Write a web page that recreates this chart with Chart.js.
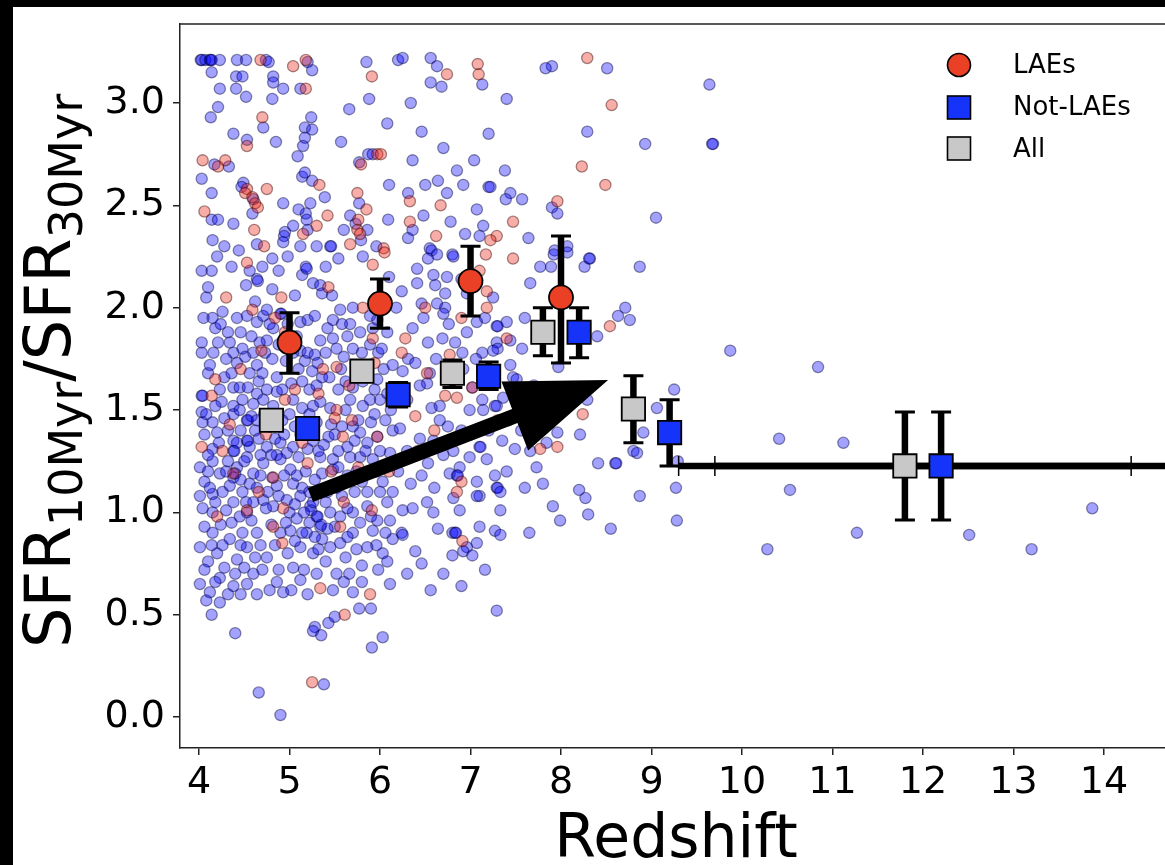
<!DOCTYPE html>
<html>
<head>
<meta charset="utf-8">
<script src="https://cdn.jsdelivr.net/npm/chart.js@4.4.0/dist/chart.umd.min.js"></script>
<style>
html, body { margin: 0; padding: 0; background: #000; width: 1165px; height: 865px; overflow: hidden; }
#wrap { position: absolute; left: 13px; top: 7px; width: 1152px; height: 858px; background: #fff; }
</style>
</head>
<body>
<div id="wrap"><canvas id="chart"></canvas></div>
<script>
// individual galaxies, [redshift, SFR10/SFR30]
const notLaePoints = [
  [4.02,3.21],[4.03,3.21],[4.07,3.21],[4.12,3.21],[4.13,3.21],[4.14,3.21],[4.23,3.21],[4.42,3.21],[4.52,3.21],[4.74,3.21],[4.77,3.20],[5.20,3.20],[5.85,3.20],[6.20,3.21],[6.25,3.22],[6.56,3.22],
  [4.14,3.15],[4.41,3.13],[4.48,3.13],[4.23,3.07],[4.41,3.07],[4.52,3.03],[4.82,3.13],[4.82,3.10],[4.93,3.07],[5.12,3.07],[4.81,3.02],[5.25,3.16],[5.88,3.02],[4.21,2.98],[4.13,2.93],[4.71,2.88],
  [5.24,2.93],[5.17,2.88],[5.25,2.87],[4.38,2.85],[4.53,2.82],[4.85,2.81],[5.17,2.83],[5.15,2.79],[5.66,2.97],[6.08,2.90],[5.57,2.81],[5.09,2.74],[5.87,2.75],[5.92,2.75],[5.77,2.71],[4.17,2.70],
  [4.33,2.69],[4.03,2.63],[4.49,2.61],[4.47,2.59],[4.60,2.53],[4.14,2.56],[4.14,2.43],[4.21,2.43],[4.38,2.41],[4.59,2.46],[4.93,2.51],[5.14,2.64],[5.17,2.66],[5.25,2.62],[5.39,2.54],[5.23,2.51],
  [5.18,2.46],[5.19,2.43],[5.20,2.38],[4.95,2.37],[4.94,2.35],[4.15,2.33],[4.64,2.31],[4.93,2.32],[5.12,2.30],[5.45,2.30],[5.46,2.30],[5.67,2.45],[5.73,2.41],[5.79,2.33],[5.77,2.51],[6.10,2.60],
  [6.09,2.43],[5.81,2.25],[4.81,2.24],[4.03,2.18],[4.14,2.18],[4.52,2.11],[4.64,2.14],[4.65,2.13],[4.81,2.09],[5.14,2.16],[5.18,2.20],[5.19,2.19],[5.26,2.12],[5.34,2.11],[5.36,2.07],[5.47,2.06],
  [5.06,2.06],[6.10,2.15],
  [6.63,3.18],[7.90,3.18],[7.83,3.17],[8.51,3.17],[6.56,3.10],[6.68,3.08],[7.13,3.09],[9.64,3.09],[7.40,3.02],[8.29,2.86],[8.93,2.80],[9.68,2.80],[6.85,2.67],[7.38,2.67],[6.64,2.62],[7.20,2.59],
  [7.22,2.59],[6.31,2.56],[7.44,2.56],[7.39,2.53],[7.57,2.53],[7.90,2.49],[7.07,2.48],[7.96,2.46],[9.05,2.44],[6.78,2.42],[7.14,2.40],[7.10,2.35],[6.31,2.34],[7.64,2.34],[8.07,2.30],[7.93,2.28],
  [6.55,2.29],[6.57,2.28],[6.80,2.26],[6.63,2.26],[8.32,2.24],[6.53,2.24],[8.26,2.20],[8.87,2.20],[7.77,2.20],[7.89,2.20],[6.41,2.19],[6.59,2.16],[6.74,2.15],[7.66,2.12],[6.41,2.12],[6.61,2.11],
  [6.72,2.07],[6.81,2.25],[7.92,2.26],[8.07,2.27],[8.31,2.24],[6.96,2.07],[7.25,2.05],
  [4.03,1.83],[4.03,1.78],[4.15,1.95],[4.32,1.88],[4.34,1.83],[4.21,1.83],[4.38,1.78],[4.42,1.73],[4.51,1.76],[4.60,1.78],[4.64,1.72],[4.73,1.78],[4.75,1.84],[4.81,1.75],[4.67,1.83],[4.42,1.95],
  [4.53,1.96],[4.64,1.93],[4.71,1.96],[4.75,1.99],[4.82,1.90],[4.90,1.97],[4.91,1.97],[5.12,1.93],[5.20,1.94],[5.28,1.96],[5.12,1.79],[5.17,1.74],[5.20,1.78],[5.28,1.77],[5.31,1.73],[5.25,1.69],
  [5.57,1.70],[5.34,1.84],[5.48,1.85],[5.64,1.86],[5.67,1.92],[5.78,1.88],[5.89,1.82],[5.98,1.78],[6.08,1.88],[5.48,1.94],[5.56,1.99],[5.70,2.00],[5.89,1.96],[5.97,1.94],
  [4.03,1.57],[4.04,1.57],[4.23,1.60],[4.38,1.61],[4.45,1.61],[4.54,1.61],[4.64,1.58],[4.75,1.60],[4.86,1.59],[4.25,1.54],[4.38,1.52],[4.48,1.55],[4.60,1.53],[4.71,1.55],[4.82,1.52],[5.04,1.55],
  [5.14,1.51],[5.26,1.52],[5.34,1.54],[5.45,1.51],[5.67,1.55],[5.81,1.52],[5.89,1.55],[6.00,1.55],[6.08,1.58],[5.54,1.60],[5.70,1.61],[5.81,1.64],[5.97,1.65],
  [4.03,1.49],[4.04,1.44],[4.15,1.44],[4.20,1.39],[4.38,1.48],[4.45,1.50],[4.53,1.45],[4.54,1.45],[4.62,1.40],[4.38,1.35],[4.15,1.31],[4.38,1.30],[4.39,1.30],[4.53,1.35],[4.54,1.35],[4.56,1.32],
  [4.75,1.32],[4.86,1.28],[4.97,1.29],[5.04,1.32],[5.26,1.35],[5.43,1.37],[5.64,1.32],[5.86,1.34],[5.97,1.37],[6.14,1.40],[5.78,1.39],
  [4.01,1.22],[4.15,1.25],[4.23,1.19],[4.38,1.17],[4.42,1.22],[4.53,1.27],[4.60,1.19],[4.71,1.24],[4.81,1.17],[4.90,1.26],[5.01,1.21],[5.04,1.14],[5.14,1.12],[4.40,1.19],[5.34,1.27],[5.48,1.26],
  [5.67,1.27],[5.78,1.27],[5.92,1.26],[6.11,1.29],[5.36,1.19],[5.48,1.21],[5.64,1.18],[5.80,1.15],[6.03,1.15],
  [4.01,1.08],[4.15,1.09],[4.04,1.02],[4.15,1.00],[4.30,1.01],[4.38,1.05],[4.45,0.98],[4.53,1.00],[4.60,1.05],[4.71,1.06],[4.82,1.03],[4.97,1.06],[5.12,1.08],[5.23,1.03],[5.30,0.98],[5.31,0.98],
  [5.34,0.93],[5.35,0.94],[5.45,1.00],[5.56,0.98],[5.70,1.00],[5.86,1.03],[5.97,0.96],[6.11,0.96],
  [4.01,0.83],[4.15,0.90],[4.20,0.80],[4.34,0.87],[4.42,0.77],[4.53,0.83],[4.64,0.90],[4.75,0.78],[4.90,0.90],[5.01,0.91],[5.12,0.83],[5.19,0.90],[5.26,0.80],[5.36,0.87],[5.45,0.83],[5.56,0.85],
  [5.70,0.90],[5.86,0.83],[5.92,0.91],[6.03,0.80],[6.14,0.87],
  [4.01,0.65],[4.12,0.61],[4.23,0.68],[4.38,0.64],[4.53,0.65],[4.60,0.70],[4.78,0.62],[4.93,0.61],[5.12,0.67],[5.48,0.62],[5.70,0.61],[6.11,0.65],
  [4.08,0.57],[4.23,0.56],[4.14,0.50],[4.40,0.41],[4.66,0.12],[4.90,0.01],[5.38,0.16],[5.28,0.44],[5.26,0.42],[5.35,0.40],[5.43,0.46],[5.50,0.49],[5.77,0.53],[5.90,0.53],[5.91,0.34],[6.03,0.39],
  [6.63,2.02],[6.72,2.00],[6.70,1.97],[7.16,1.95],[7.07,1.93],[7.29,1.91],[7.30,1.91],[7.40,1.93],[7.29,1.83],[7.30,1.80],[7.44,1.84],[7.57,1.80],[8.71,2.00],[8.63,1.96],[8.76,1.94],[8.40,1.86],
  [7.97,1.71],[6.53,1.83],[6.69,1.85],[6.83,1.83],[6.91,1.78],[7.13,1.78],[7.25,1.79],[6.31,1.75],[6.25,1.69],[6.39,1.73],[6.55,1.68],[6.52,1.63],[7.02,1.61],[7.13,1.55],[7.27,1.52],[7.36,1.56],
  [7.47,1.66],[7.51,1.65],[8.29,1.55],[6.57,1.51],[6.66,1.52],[6.22,1.41],[6.99,1.50],[7.14,1.50],[7.29,1.52],[7.96,1.39],[7.84,1.34],[8.21,1.38],[6.66,1.45],[6.75,1.42],[6.59,1.35],[6.81,1.30],
  [7.10,1.32],[7.11,1.32],[7.35,1.35],[7.49,1.31],[7.66,1.30],[6.53,1.24],[6.88,1.22],[6.99,1.27],[6.77,1.19],[6.85,1.18],[6.86,1.18],[7.07,1.15],[7.27,1.18],[7.29,1.12],[7.30,1.12],[7.33,1.10],
  [7.73,1.22],[8.41,1.24],[8.60,1.24],[8.61,1.24],[8.80,1.30],[8.84,1.29],[8.91,1.39],[9.06,1.51],[9.25,1.60],[9.29,1.25],[9.27,1.12],[9.28,0.96],[9.87,1.79],[10.41,1.36],[10.53,1.11],[10.28,0.82],
  [8.87,1.08],[8.20,1.11],[8.27,1.07],[8.30,0.99],[7.91,1.03],[7.99,0.96],[7.65,0.90],[8.55,0.92],[6.81,1.07],[7.10,1.08],[6.52,1.05],[6.59,1.00],[6.88,1.01],[7.07,1.08],[7.33,1.01],[6.25,1.01],
  [6.36,1.02],[6.24,0.90],[6.25,0.89],[6.39,0.81],[6.64,0.92],[6.80,0.90],[6.83,0.90],[6.84,0.90],[6.96,0.83],[7.07,0.85],[6.80,0.79],[6.92,0.81],[7.02,0.79],[7.10,0.93],[7.27,0.91],[7.33,0.89],
  [7.29,0.52],[10.84,1.71],[11.12,1.34],[11.27,0.90],[12.51,0.89],[13.20,0.82],[13.87,1.02],[9.67,2.80],
  [4.05,1.95],[4.08,2.05],[4.10,1.68],[4.12,1.72],[4.18,1.90],[4.26,1.98],[4.28,1.66],[4.30,1.75],[4.46,1.88],[4.58,1.86],[4.62,2.03],[4.70,1.68],[4.78,1.92],[4.86,1.66],[4.88,1.82],[4.96,1.74],
  [5.02,1.63],[5.08,1.86],[5.10,1.70],[5.22,1.60],[5.30,1.62],[5.40,1.78],[5.44,1.66],[5.52,1.80],[5.60,1.76],[5.62,1.64],[5.74,1.72],[5.84,1.70],[5.94,1.60],[6.04,1.70],
  [4.06,1.38],[4.10,1.28],[4.22,1.34],[4.28,1.46],[4.32,1.25],[4.46,1.40],[4.50,1.25],[4.58,1.47],[4.66,1.36],[4.68,1.28],[4.78,1.42],[4.84,1.36],[4.92,1.45],[4.94,1.38],[5.06,1.42],[5.10,1.27],
  [5.16,1.44],[5.20,1.31],[5.30,1.44],[5.38,1.33],[5.46,1.43],[5.54,1.30],[5.58,1.42],[5.72,1.35],[5.76,1.45],[5.90,1.44],[6.00,1.30],[6.06,1.45],
  [4.06,1.15],[4.12,1.12],[4.26,1.10],[4.34,1.13],[4.48,1.10],[4.56,1.14],[4.64,1.12],[4.76,1.10],[4.86,1.13],[4.94,1.18],[5.08,1.18],[5.18,1.20],[5.22,1.10],[5.28,1.16],[5.42,1.10],[5.52,1.12],
  [5.58,1.08],[5.72,1.10],[5.86,1.10],[5.96,1.20],[6.08,1.05],
  [4.06,0.93],[4.10,0.76],[4.24,0.94],[4.28,0.73],[4.36,0.95],[4.48,0.90],[4.50,0.73],[4.58,0.96],[4.68,0.84],[4.70,0.72],[4.84,0.84],[4.88,0.72],[4.98,0.80],[5.04,0.73],[5.08,0.97],[5.16,0.72],
  [5.22,0.95],[5.24,1.01],[5.26,1.05],[5.28,0.88],[5.30,0.70],[5.40,0.76],[5.50,0.93],[5.62,0.78],[5.66,0.70],[5.78,0.95],[5.80,0.74],[5.98,0.72],[6.06,0.90],
  [6.20,1.20],[6.30,1.30],[6.34,1.14],[6.44,1.36],[6.46,1.18],[6.60,1.12],[6.70,1.28],[6.90,1.40],[7.00,1.38],[7.18,1.26],[7.20,1.40],[7.40,1.20],[7.42,1.45],[7.56,1.40],[7.60,1.12],[7.80,1.14],
  [6.20,1.60],[6.30,1.55],[6.36,1.90],[6.44,1.62],[6.48,1.95],[6.62,1.75],[6.76,1.92],[6.92,1.70],[6.96,1.88],[7.06,1.75],[7.22,1.68],[7.44,1.72],[7.60,1.95],[7.70,1.62],[7.86,1.60],[8.04,1.60],
  [6.30,0.70],[6.46,0.75],[6.56,0.62],[6.70,0.70],[6.90,0.64],[7.16,0.72],
  [6.18,2.00],[6.24,2.08],[6.46,2.02],[6.90,2.14],[6.36,2.38],[6.48,2.45],[6.50,2.60],[6.74,2.56],[6.94,2.36],[6.92,2.60],[6.46,2.86],[6.70,2.78],[6.36,2.72],[7.04,2.72],[6.34,3.00],[7.20,2.85],
  [4.10,2.10],[4.20,2.25],[4.28,2.30],[4.36,2.20],[4.44,2.28],[4.56,2.18],[4.70,2.20],[4.88,2.18],[4.98,2.25],[5.04,2.40],[5.10,2.48],[5.30,2.30],[5.40,2.20],[5.54,2.24],[5.60,2.38],[5.86,2.38],
  [5.96,2.30],[6.02,2.05],
  [4.16,1.78],[4.24,1.92],[4.36,1.68],[4.48,1.80],[4.56,1.68],[4.66,1.64],[4.92,1.60],[4.98,1.92],[5.04,1.78],[5.14,1.64],[5.36,1.66],[5.42,1.90],[5.58,1.92],[5.70,1.80],[5.80,1.78],[5.92,1.90],
  [6.02,1.80],[6.14,1.72],
  [4.08,1.48],[4.18,1.52],[4.32,1.40],[4.42,1.34],[4.64,1.45],[4.72,1.48],[4.80,1.28],[4.90,1.34],[5.00,1.48],[5.12,1.38],[5.22,1.48],[5.32,1.30],[5.50,1.38],[5.62,1.50],[5.70,1.42],[5.84,1.30],
  [5.94,1.48],[6.12,1.50],
  [4.10,1.20],[4.18,1.05],[4.30,1.20],[4.46,1.16],[4.52,1.05],[4.68,1.18],[4.74,1.02],[4.88,1.08],[5.00,1.00],[5.06,1.04],[5.16,1.00],[5.40,1.05],[5.54,1.22],[5.64,1.02],[5.74,1.20],[5.90,0.98],
  [6.00,1.10],[6.14,1.10],
  [4.14,0.84],[4.26,0.84],[4.40,0.70],[4.46,0.84],[4.62,0.78],[4.80,0.94],[4.96,0.95],[5.06,0.86],[5.14,0.90],[5.32,0.82],[5.42,0.92],[5.52,0.70],[5.64,0.88],[5.74,0.82],[5.96,0.84],[6.08,0.76],
  [4.06,0.72],[4.18,0.66],[4.32,0.60],[4.46,0.60],[4.64,0.60],[4.86,0.66],[5.02,0.62],[5.20,0.60],[5.60,0.66],[5.80,0.66]
];
const laePoints = [
  [4.68,3.21],[5.18,3.21],[5.04,3.18],[5.91,3.13],[5.18,3.07],[4.70,2.93],[4.53,2.79],[5.97,2.75],[6.01,2.75],[5.79,2.70],[4.04,2.72],[4.21,2.69],[4.29,2.72],[4.53,2.58],[4.51,2.56],[4.59,2.54],
  [4.62,2.51],[4.65,2.49],[4.75,2.58],[4.06,2.47],[5.33,2.60],[5.42,2.45],[5.15,2.36],[4.61,2.38],[5.67,2.31],[5.76,2.43],[5.75,2.38],[5.78,2.36],[5.75,2.56],[5.85,2.48],[6.04,2.29],[6.05,2.27],
  [5.92,2.21],[4.53,2.22],[5.43,2.10],[4.91,2.05],
  [8.29,3.22],[7.08,3.19],[6.74,3.14],[7.09,3.14],[8.56,2.99],[8.23,2.69],[8.49,2.60],[7.96,2.52],[6.33,2.52],[6.67,2.50],[7.47,2.42],[6.33,2.42],[7.29,2.35],[7.22,2.33],[6.62,2.35],[7.17,2.26],
  [7.47,2.24],[7.10,2.18],[7.18,2.08],
  [4.69,1.79],[4.59,1.99],[4.95,1.88],[5.37,1.70],[5.52,1.71],[5.81,2.00],[4.14,1.57],[4.95,1.55],[5.52,1.50],[4.34,1.43],[4.03,1.32],[5.14,1.34],[5.59,1.37],[5.97,1.37],[5.69,1.45],[5.50,1.46],
  [4.38,1.19],[4.82,1.17],[4.66,1.10],[4.53,1.01],[4.93,1.02],[4.82,0.93],[5.56,0.93],[5.91,1.01],[5.34,0.63],[5.89,0.60],[5.25,0.17],[5.61,0.50],
  [7.18,2.00],[8.54,1.91],[6.28,1.85],[6.24,1.78],[6.77,1.77],[6.52,1.68],[6.72,1.57],[6.85,1.56],[7.02,1.61],[8.24,1.48],[6.39,1.47],[7.96,1.32],[7.77,1.31],[6.90,1.15],[6.85,1.10],[6.91,0.86],
  [4.18,1.65],[4.46,1.70],[4.84,1.95],[5.06,1.60],[5.32,1.58],[5.66,1.62],[5.94,1.73],[4.26,1.30],[4.74,1.38],[5.20,1.24],[5.46,1.20],[5.76,1.22],[4.20,0.98],[4.92,0.85],[5.60,1.05],[6.10,1.20],
  [6.42,1.30],[6.60,1.40],[7.30,1.45],[6.50,2.00],[6.90,1.95],[7.40,1.85],[4.30,2.05],[4.72,2.30],[5.30,2.40],[5.92,1.85]
];

// binned medians with error bars
const laeBinZ = [5.0, 6.0, 7.0, 8.0];
const laeBinR = [1.83, 2.02, 2.13, 2.05];
const laeBinLo = [1.68, 1.90, 1.96, 1.73];
const laeBinHi = [1.975, 2.14, 2.30, 2.35];

const notLaeBinZ = [5.2, 6.2, 7.2, 8.2, 9.2, 12.2];
const notLaeBinR = [1.41, 1.575, 1.665, 1.88, 1.39, 1.227];
const notLaeBinLo = [1.39, 1.515, 1.60, 1.755, 1.227, 0.963];
const notLaeBinHi = [1.43, 1.635, 1.735, 2.00, 1.55, 1.49];
const notLaeBinZerr = [0, 0, 0, 0, 0, 2.5];

const allBinZ = [4.8, 5.8, 6.8, 7.8, 8.8, 11.8];
const allBinR = [1.45, 1.69, 1.68, 1.88, 1.505, 1.227];
const allBinLo = [1.43, 1.67, 1.61, 1.765, 1.34, 0.963];
const allBinHi = [1.47, 1.71, 1.745, 2.00, 1.667, 1.49];
const allBinZerr = [0, 0, 0, 0, 0, 2.5];

const xTicks = [4, 5, 6, 7, 8, 9, 10, 11, 12, 13, 14];
const yTicks = [0.0, 0.5, 1.0, 1.5, 2.0, 2.5, 3.0];

// annotation arrow (data coords)
const arrowFrom = [5.23, 1.085];
const arrowTo = [8.52, 1.647];

const FONT = "'DejaVu Sans', sans-serif";
const RED = '#ea4126', BLUE = '#1634f9', GREY = '#c8c8c8';

function toXY(zs, rs) {
    return zs.map((z, i) => ({ x: z, y: rs[i] }));
}

function drawErrorBars(chart) {
    const ctx = chart.ctx, xs = chart.scales.x, ys = chart.scales.y, a = chart.chartArea;
    const groups = [
        [laeBinZ, laeBinR, laeBinLo, laeBinHi, null],
        [notLaeBinZ, notLaeBinR, notLaeBinLo, notLaeBinHi, notLaeBinZerr],
        [allBinZ, allBinR, allBinLo, allBinHi, allBinZerr]
    ];
    ctx.save();
    ctx.beginPath();
    ctx.rect(a.left, a.top, a.right - a.left, a.bottom - a.top);
    ctx.clip();
    ctx.strokeStyle = '#000';
    ctx.lineCap = 'butt';
    for (let g of groups) {
        const [zs, rs, lo, hi, zerr] = g;
        for (let i = 0; i < zs.length; i++) {
            const px = xs.getPixelForValue(zs[i]);
            const py = ys.getPixelForValue(rs[i]);
            const pLo = ys.getPixelForValue(lo[i]);
            const pHi = ys.getPixelForValue(hi[i]);
            ctx.lineWidth = 6.5;
            ctx.beginPath();
            ctx.moveTo(px, pLo);
            ctx.lineTo(px, pHi);
            ctx.stroke();
            ctx.lineWidth = 3;
            ctx.beginPath();
            ctx.moveTo(px - 10, pLo); ctx.lineTo(px + 10, pLo);
            ctx.moveTo(px - 10, pHi); ctx.lineTo(px + 10, pHi);
            ctx.stroke();
            if (zerr && zerr[i] > 0) {
                const xl = xs.getPixelForValue(zs[i] - zerr[i]);
                const xr = xs.getPixelForValue(zs[i] + zerr[i]);
                ctx.lineWidth = 6.5;
                ctx.beginPath();
                ctx.moveTo(xl, py); ctx.lineTo(xr, py);
                ctx.stroke();
                ctx.lineWidth = 1.5;
                ctx.beginPath();
                ctx.moveTo(xl, py - 10); ctx.lineTo(xl, py + 10);
                ctx.moveTo(xr, py - 10); ctx.lineTo(xr, py + 10);
                ctx.stroke();
            }
        }
    }
    ctx.restore();
}

function drawArrow(chart) {
    const ctx = chart.ctx, xs = chart.scales.x, ys = chart.scales.y;
    const tx = xs.getPixelForValue(arrowFrom[0]), ty = ys.getPixelForValue(arrowFrom[1]);
    const hx = xs.getPixelForValue(arrowTo[0]), hy = ys.getPixelForValue(arrowTo[1]);
    const len = Math.hypot(hx - tx, hy - ty);
    const ux = (hx - tx) / len, uy = (hy - ty) / len;
    const nx = -uy, ny = ux;
    const headLen = 100, headHalf = 37, shaftHalf = 7.5;
    const bx = hx - ux * headLen, by = hy - uy * headLen;
    ctx.save();
    ctx.fillStyle = '#000';
    ctx.beginPath();
    ctx.moveTo(tx + nx * shaftHalf, ty + ny * shaftHalf);
    ctx.lineTo(bx + nx * shaftHalf, by + ny * shaftHalf);
    ctx.lineTo(bx + nx * headHalf, by + ny * headHalf);
    ctx.lineTo(hx, hy);
    ctx.lineTo(bx - nx * headHalf, by - ny * headHalf);
    ctx.lineTo(bx - nx * shaftHalf, by - ny * shaftHalf);
    ctx.lineTo(tx - nx * shaftHalf, ty - ny * shaftHalf);
    ctx.closePath();
    ctx.fill();
    ctx.restore();
}

function drawLegend(ctx) {
    const mx = 946, tx = 1000;
    ctx.save();
    ctx.strokeStyle = '#000';
    ctx.lineWidth = 1.6;
    ctx.fillStyle = RED;
    ctx.beginPath(); ctx.arc(mx, 58, 11.5, 0, Math.PI * 2); ctx.fill(); ctx.stroke();
    ctx.fillStyle = BLUE;
    ctx.fillRect(mx - 11.5, 89, 23, 23); ctx.strokeRect(mx - 11.5, 89, 23, 23);
    ctx.fillStyle = GREY;
    ctx.fillRect(mx - 11.5, 130, 23, 23); ctx.strokeRect(mx - 11.5, 130, 23, 23);
    ctx.fillStyle = '#000';
    ctx.font = '26px ' + FONT;
    ctx.textAlign = 'left';
    ctx.textBaseline = 'alphabetic';
    ctx.fillText('LAEs', tx, 66);
    ctx.fillText('Not-LAEs', tx, 108);
    ctx.fillText('All', tx, 150);
    ctx.restore();
}

function drawTitles(ctx) {
    ctx.save();
    ctx.fillStyle = '#000';
    ctx.textAlign = 'center';
    ctx.textBaseline = 'alphabetic';
    ctx.font = '60px ' + FONT;
    ctx.fillText('Redshift', 663, 850);
    // rotated y label with subscripts
    const parts = [['SFR', 64, 0], ['10Myr', 46, 12], ['/SFR', 64, 0], ['30Myr', 46, 12]];
    ctx.textAlign = 'left';
    let total = 0;
    for (let p of parts) {
        ctx.font = p[1] + 'px ' + FONT;
        total += ctx.measureText(p[0]).width;
    }
    ctx.translate(57, 364);
    ctx.rotate(-Math.PI / 2);
    let x = -total / 2;
    for (let p of parts) {
        ctx.font = p[1] + 'px ' + FONT;
        ctx.fillText(p[0], x, p[2]);
        x += ctx.measureText(p[0]).width;
    }
    ctx.restore();
}

function noPadding(axis) {
    axis.paddingTop = 0;
    axis.paddingBottom = 0;
    axis.paddingLeft = 0;
    axis.paddingRight = 0;
}

const decor = {
    id: 'decor',
    beforeDatasetDraw(chart, args) {
        if (chart.data.datasets[args.index].key === 'allBins') drawErrorBars(chart);
    },
    afterDatasetsDraw(chart) {
        drawArrow(chart);
    },
    afterDraw(chart) {
        const ctx = chart.ctx, a = chart.chartArea;
        ctx.save();
        ctx.strokeStyle = '#222';
        ctx.lineWidth = 1.5;
        ctx.beginPath();
        ctx.moveTo(a.left, a.top);
        ctx.lineTo(a.right, a.top);
        ctx.stroke();
        ctx.restore();
        drawLegend(ctx);
        drawTitles(ctx);
    }
};

const config = {
    type: 'scatter',
    data: {
        datasets: [
            {
                label: 'Not-LAEs galaxies',
                data: notLaePoints.map(p => ({ x: p[0], y: p[1] })),
                backgroundColor: 'rgba(0,0,255,0.36)',
                borderColor: 'rgba(0,0,60,0.45)',
                borderWidth: 1.3,
                pointRadius: 5.6,
                order: 10
            },
            {
                label: 'LAEs galaxies',
                data: laePoints.map(p => ({ x: p[0], y: p[1] })),
                backgroundColor: 'rgba(235,40,25,0.38)',
                borderColor: 'rgba(60,0,0,0.45)',
                borderWidth: 1.3,
                pointRadius: 5.6,
                order: 9
            },
            {
                key: 'allBins',
                label: 'All',
                data: toXY(allBinZ, allBinR),
                pointStyle: 'rect',
                backgroundColor: GREY,
                borderColor: '#000',
                borderWidth: 1.8,
                pointRadius: 16.5,
                order: 3
            },
            {
                label: 'Not-LAEs',
                data: toXY(notLaeBinZ, notLaeBinR),
                pointStyle: 'rect',
                backgroundColor: BLUE,
                borderColor: '#000',
                borderWidth: 1.8,
                pointRadius: 16.5,
                order: 2
            },
            {
                label: 'LAEs',
                data: toXY(laeBinZ, laeBinR),
                pointStyle: 'circle',
                backgroundColor: RED,
                borderColor: '#000',
                borderWidth: 1.8,
                pointRadius: 12,
                order: 1
            }
        ]
    },
    options: {
        responsive: true,
        maintainAspectRatio: false,
        animation: false,
        events: [],
        layout: { autoPadding: false, padding: { top: 17, right: 0, left: 0, bottom: 0 } },
        plugins: {
            legend: { display: false },
            tooltip: { enabled: false }
        },
        scales: {
            x: {
                type: 'linear',
                min: 3.79,
                max: 14.674,
                afterBuildTicks: axis => { axis.ticks = xTicks.map(v => ({ value: v })); },
                afterFit: axis => { axis.height = 117; noPadding(axis); },
                ticks: {
                    color: '#000',
                    font: { family: FONT, size: 38 },
                    padding: 5,
                    maxRotation: 0,
                    autoSkip: false,
                    callback: v => String(v)
                },
                grid: { display: true, drawOnChartArea: false, drawTicks: true, tickLength: 7, color: '#222', tickColor: '#222', lineWidth: 1.5 },
                border: { display: true, color: '#222', width: 1.5 }
            },
            y: {
                type: 'linear',
                min: -0.151,
                max: 3.386,
                afterBuildTicks: axis => { axis.ticks = yTicks.map(v => ({ value: v })); },
                afterFit: axis => { axis.width = 167; noPadding(axis); },
                ticks: {
                    color: '#000',
                    font: { family: FONT, size: 38 },
                    padding: 8,
                    autoSkip: false,
                    callback: v => v.toFixed(1)
                },
                grid: { display: true, drawOnChartArea: false, drawTicks: true, tickLength: 7, color: '#222', tickColor: '#222', lineWidth: 1.5 },
                border: { display: true, color: '#222', width: 1.5 }
            }
        }
    },
    plugins: [decor]
};

new Chart(document.getElementById('chart'), config);
</script>
</body>
</html>
